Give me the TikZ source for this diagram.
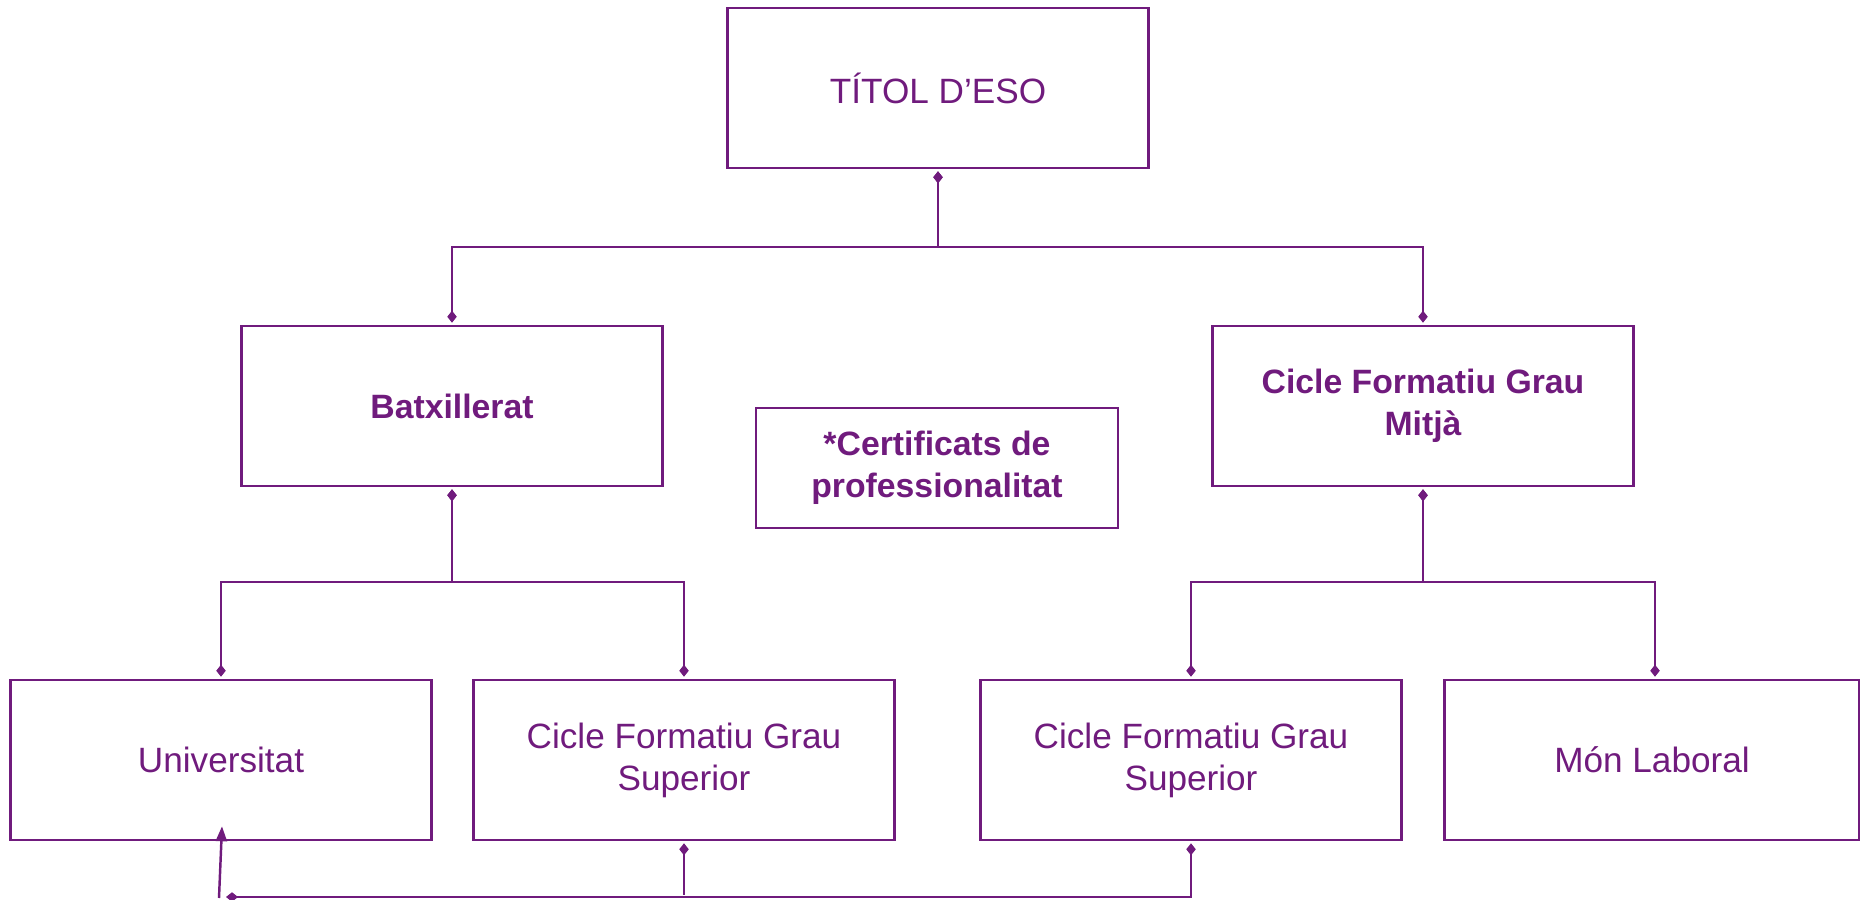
\documentclass[tikz,border=0pt]{standalone}
\usepackage{fontspec}
\setmainfont{Liberation Sans}
\usetikzlibrary{arrows.meta}
\definecolor{lila}{RGB}{112,27,125}

\begin{document}
\begin{tikzpicture}[x=0.01cm, y=-0.01cm,
    box/.style={draw=lila, line width=0.7pt, text=lila, align=center,
      minimum width=4.21cm, minimum height=1.6cm, inner sep=0pt,
      font=\fontsize{10}{12}\selectfont},
    bold/.style={font=\fontsize{9.6}{12}\selectfont\bfseries},
    link/.style={draw=lila, line width=0.7pt,
      {Diamond[length=1.2mm,width=0.95mm]}-{Diamond[length=1.2mm,width=0.95mm]},
      shorten <=0.2mm, shorten >=0.2mm},
    back/.style={draw=lila, line width=0.7pt, -{Triangle[length=1.5mm,width=1.1mm]}}]
    \useasboundingbox (0,0) rectangle (1860,900);
    % the levels after the ESO title
    \node[box] (titol) at (938, 88) {TÍTOL D’ESO};
    \node[box, bold] (batx) at (452, 406) {Batxillerat};
    \node[box, bold, minimum width=3.62cm, minimum height=1.2cm] (cert) at (937, 468) {*Certificats de\\professionalitat};
    \node[box, bold] (cfgm) at (1423, 406) {Cicle Formatiu Grau\\Mitjà};
    \node[box] (univ) at (221, 760) {Universitat};
    \node[box] (cfgs1) at (684, 760) {Cicle Formatiu Grau\\Superior};
    \node[box] (cfgs2) at (1191, 760) {Cicle Formatiu Grau\\Superior};
    \node[box, minimum width=4.15cm] (mon) at (1652, 760) {Món Laboral};
    \coordinate (bus1) at (0, 247);
    \coordinate (bus2) at (0, 582);
    \coordinate (bus3) at (0, 897);
    \coordinate (end) at (224, 897);
    \coordinate (ret) at (219, 898);
    \draw[link] (titol.south) -- (titol.south |- bus1) -| (batx.north);
    \draw[link] (titol.south) -- (titol.south |- bus1) -| (cfgm.north);
    \draw[link] (batx.south) -- (batx.south |- bus2) -| (univ.north);
    \draw[link] (batx.south) -- (batx.south |- bus2) -| (cfgs1.north);
    \draw[link] (cfgm.south) -- (cfgm.south |- bus2) -| (cfgs2.north);
    \draw[link] (cfgm.south) -- (cfgm.south |- bus2) -| ([xshift=0.03cm]mon.north);
    \draw[link] (cfgs2.south) -- (cfgs2.south |- bus3) -- (end);
    \draw[link, {Diamond[length=1.2mm,width=0.95mm]}-] (cfgs1.south) -- (cfgs1.south |- bus3);
    \draw[back] (ret) -- ([xshift=0.01cm, yshift=0.15cm]univ.south);
  \end{tikzpicture}
\end{document}
